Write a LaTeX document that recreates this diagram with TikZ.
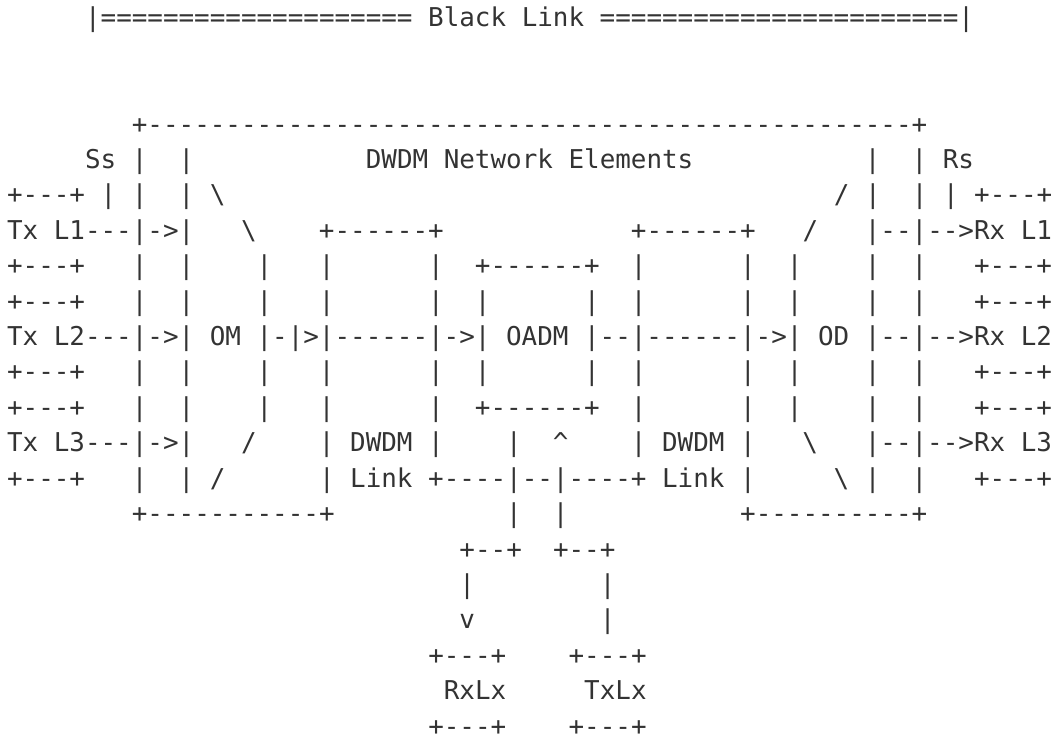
\documentclass[tikz,border=0pt]{standalone}
\usepackage{fontspec}
\setmonofont{DejaVu Sans Mono}
\definecolor{ink}{HTML}{333333}
\tikzset{ascii/.style={anchor=base west, inner sep=0pt, text=ink, text depth=0pt,
    font=\ttfamily\fontsize{19.43pt}{20pt}\selectfont}}

\begin{document}
\begin{tikzpicture}[x=11.7pt, y=-26.55pt]
	\useasboundingbox (0pt,0pt) rectangle (792pt,-552.75pt);
	\begin{scope}[shift={(5.1pt,-20.25pt)}]
		% title
		\node[ascii] (title) at (5,0) {|====================~Black~Link~=======================|};
		% network element frame
		\node[ascii] (frametop) at (8,3) {+-------------------------------------------------+};
		\node[ascii] (labels) at (5,4) {Ss~|~~|~~~~~~~~~~~DWDM~Network~Elements~~~~~~~~~~~|~~|~Rs};
		\node[ascii] (row5l) at (0,5) {+---+~|~|~~|~\textbackslash};
		\node[ascii] (row5r) at (53,5) {/~|~~|~|~+---+};
		% channel L1
		\node[ascii] (txl1) at (0,6) {Tx~L1---|->|~~~\textbackslash~~~~+------+~~~~~~~~~~~~+------+~~~/~~~|--|-->Rx~L1};
		\node[ascii] (row7) at (0,7) {+---+~~~|~~|~~~~|~~~|~~~~~~|~~+------+~~|~~~~~~|~~|~~~~|~~|~~~+---+};
		\node[ascii] (row8) at (0,8) {+---+~~~|~~|~~~~|~~~|~~~~~~|~~|~~~~~~|~~|~~~~~~|~~|~~~~|~~|~~~+---+};
		% channel L2
		\node[ascii] (txl2) at (0,9) {Tx~L2---|->|~OM~|-|>|------|->|~OADM~|--|------|->|~OD~|--|-->Rx~L2};
		\node[ascii] (row10) at (0,10) {+---+~~~|~~|~~~~|~~~|~~~~~~|~~|~~~~~~|~~|~~~~~~|~~|~~~~|~~|~~~+---+};
		\node[ascii] (row11) at (0,11) {+---+~~~|~~|~~~~|~~~|~~~~~~|~~+------+~~|~~~~~~|~~|~~~~|~~|~~~+---+};
		% channel L3
		\node[ascii] (txl3) at (0,12) {Tx~L3---|->|~~~/~~~~|~DWDM~|~~~~|~~\textasciicircum~~~~|~DWDM~|~~~\textbackslash~~~|--|-->Rx~L3};
		\node[ascii] (row13) at (0,13) {+---+~~~|~~|~/~~~~~~|~Link~+----|--|----+~Link~|~~~~~\textbackslash~|~~|~~~+---+};
		\node[ascii] (framebot) at (8,14) {+-----------+~~~~~~~~~~~|~~|~~~~~~~~~~~+----------+};
		% add / drop ports
		\node[ascii] (drop1) at (29,15) {+--+~~+--+};
		\node[ascii] (drop2) at (29,16) {|~~~~~~~~|};
		\node[ascii] (drop3) at (29,17) {v~~~~~~~~|};
		\node[ascii] (lxtop) at (27,18) {+---+~~~~+---+};
		\node[ascii] (lx) at (28,19) {RxLx~~~~~TxLx};
		\node[ascii] (lxbot) at (27,20) {+---+~~~~+---+};
	\end{scope}
\end{tikzpicture}
\end{document}
